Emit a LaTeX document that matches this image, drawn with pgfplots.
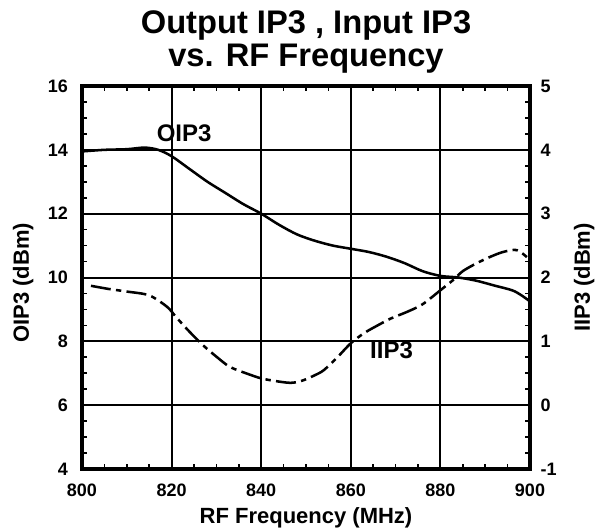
\documentclass[border=0pt]{standalone}
\usepackage{pgfplots}
\pgfplotsset{compat=1.18}
\usepackage{fontspec}
\setmainfont{Liberation Sans}
\begin{document}
\begin{tikzpicture}
\useasboundingbox (-61.5pt,-45pt) rectangle (385.5pt,351.75pt);
\begin{axis}[
  at={(0,0)}, anchor=south west,
  scale only axis, width=336pt, height=287.25pt,
  xmin=800, xmax=900, ymin=4, ymax=16,
  xtick={800,820,...,900}, ytick={4,6,...,16},
  minor x tick num=3, minor y tick num=3,
  ytick pos=left,
  tick align=inside,
  major tick length=0pt, minor tick length=3.5pt,
  tick style={black, line width=1.3pt},
  grid=major, major grid style={black, line width=1.5pt},
  axis line style={line width=2.3pt},
  /pgf/number format/assume math mode=true,
  tick label style={font=\fontsize{13.5}{15}\selectfont\bfseries},
  xticklabel style={yshift=-8pt},
  yticklabel style={xshift=-7pt},
  label style={font=\fontsize{16.5}{18}\selectfont\bfseries},
  xlabel={RF Frequency (MHz)},
  xlabel style={yshift=-1pt},
  ylabel={OIP3 (dBm)},
  ylabel style={yshift=4pt, xshift=-4pt},
  title={Output IP3 , Input IP3\\vs. RF Frequency},
  title style={align=center, font=\fontsize{24.5}{25}\selectfont\bfseries},
]
\addplot[black, line width=1.9pt, smooth, tension=0.5] coordinates {
(800,13.95) (805,14.0) (810,14.02) (814,14.07) (817,14.0) (820,13.8) (824,13.4)
(828,13.0) (832,12.65) (836,12.3) (840,12.0) (844,11.65) (848,11.35) (852,11.15)
(856,11.0) (860,10.9) (864,10.8) (868,10.65) (872,10.45) (876,10.2) (880,10.05)
(884,10.0) (888,9.9) (892,9.75) (896,9.6) (898,9.45) (900,9.25)
};
\node[font=\fontsize{18}{20}\selectfont\bfseries] at (axis cs:822.8,14.53) {OIP3};
\node[font=\fontsize{18}{20}\selectfont\bfseries] at (axis cs:869.1,7.72) {IIP3};
\draw[line width=2.3pt] (rel axis cs:0,0) rectangle (rel axis cs:1,1);
\end{axis}
\begin{axis}[
  at={(0,0)}, anchor=south west,
  scale only axis, width=336pt, height=287.25pt,
  xmin=800, xmax=900, ymin=-1, ymax=5,
  axis x line=none, axis y line*=right,
  ytick={-1,0,...,5}, minor y tick num=3,
  tick align=inside,
  major tick length=0pt, minor tick length=3.5pt,
  tick style={black, line width=1.3pt},
  axis line style={line width=2.3pt},
  /pgf/number format/assume math mode=true,
  tick label style={font=\fontsize{13.5}{15}\selectfont\bfseries},
  yticklabel style={xshift=4.5pt},
  label style={font=\fontsize{16.5}{18}\selectfont\bfseries},
  ylabel={IIP3 (dBm)},
  ylabel style={yshift=-6pt},
]
\addplot[black, line width=1.9pt, smooth, tension=0.5, dash pattern=on 15pt off 4pt on 4pt off 4pt] coordinates {
(802,1.87) (806,1.82) (810,1.78) (815,1.72) (819,1.54) (821,1.38) (824,1.15)
(827,0.94) (830,0.76) (833,0.6) (837,0.49) (840,0.42) (843,0.38) (846.5,0.35)
(849,0.38) (852,0.47) (854,0.55) (857,0.75) (860,0.97) (863,1.13) (866,1.25)
(869,1.36) (872.5,1.46) (876,1.58) (880,1.8) (883,1.97) (885,2.1) (888,2.22)
(891,2.32) (894,2.4) (897,2.43) (899.3,2.32)
};
\end{axis}
\end{tikzpicture}
\end{document}
